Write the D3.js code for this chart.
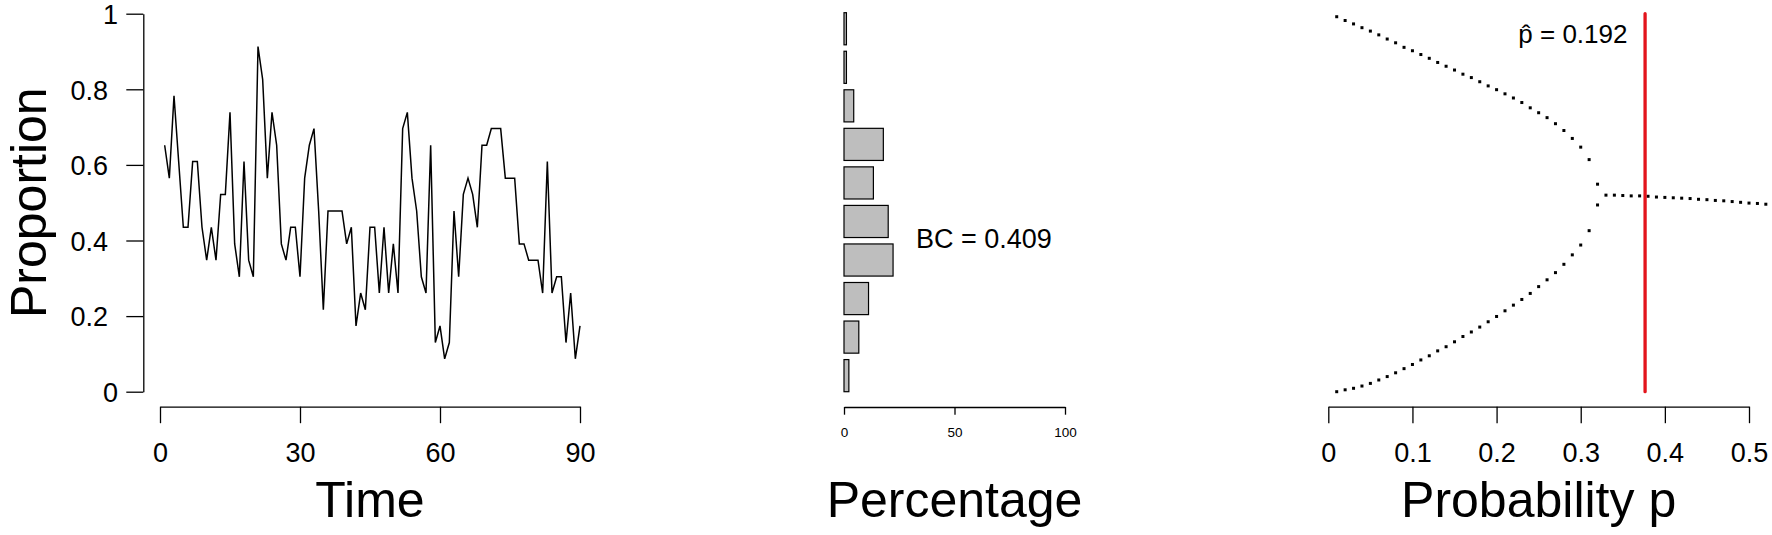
<!DOCTYPE html>
<html><head><meta charset="utf-8">
<script src="https://cdn.jsdelivr.net/npm/d3@7"></script>
<style>
html,body{margin:0;padding:0;background:#fff;}
svg{display:block;font-family:"Liberation Sans",Arial,Helvetica,sans-serif;}
</style></head><body>
<svg id="c" width="1772" height="535"></svg>
<script>
// ---------- DATA ----------
// Panel 1: proportion over time (t = 1..90)
const timeValues = [
 0.652,0.565,0.783,0.609,0.435,0.435,0.609,0.609,0.435,0.348,
 0.435,0.348,0.522,0.522,0.739,0.391,0.304,0.609,0.348,0.304,
 0.913,0.826,0.565,0.739,0.652,0.391,0.348,0.435,0.435,0.304,
 0.565,0.652,0.696,0.478,0.217,0.478,0.478,0.478,0.478,0.391,
 0.435,0.174,0.261,0.217,0.435,0.435,0.261,0.435,0.261,0.391,
 0.261,0.696,0.739,0.565,0.478,0.304,0.261,0.652,0.130,0.174,
 0.087,0.130,0.478,0.304,0.522,0.565,0.522,0.435,0.652,0.652,
 0.696,0.696,0.696,0.565,0.565,0.565,0.391,0.391,0.348,0.348,
 0.348,0.261,0.609,0.261,0.304,0.304,0.130,0.261,0.087,0.174];
const timeTicks = [0, 30, 60, 90];
const timeTickLabels = ["0", "30", "60", "90"];
const propTicks = [0, 0.2, 0.4, 0.6, 0.8, 1];
const propTickLabels = ["0", "0.2", "0.4", "0.6", "0.8", "1"];

// Panel 2: histogram of proportions (bins bottom -> top), percentage
const binLabels = ["0-0.1","0.1-0.2","0.2-0.3","0.3-0.4","0.4-0.5","0.5-0.6","0.6-0.7","0.7-0.8","0.8-0.9","0.9-1"];
const binPercent = [2.2, 6.7, 11.1, 22.2, 20.0, 13.3, 17.8, 4.4, 1.1, 1.1];
const pctTicks = [0, 50, 100];
const pctTickLabels = ["0", "50", "100"];
const bcLabel = "BC = 0.409";

// Panel 3: equilibria vs probability p
const upperP = [0.01,0.02,0.03,0.04,0.05,0.06,0.07,0.08,0.09,0.10,0.11,0.12,0.13,0.14,0.15,0.16,
                0.17,0.18,0.19,0.20,0.21,0.22,0.23,0.24,0.25,0.26,0.27,0.28,0.29,0.30,0.31,0.32];
const upperY = [0.992,0.982,0.973,0.963,0.954,0.944,0.933,0.923,0.911,0.902,0.892,0.882,0.871,0.861,0.851,0.840,
                0.831,0.820,0.809,0.799,0.788,0.777,0.765,0.751,0.738,0.725,0.709,0.691,0.670,0.647,0.614,0.549];
const lowerP = [0.01,0.02,0.03,0.04,0.05,0.06,0.07,0.08,0.09,0.10,0.11,0.12,0.13,0.14,0.15,0.16,
                0.17,0.18,0.19,0.20,0.21,0.22,0.23,0.24,0.25,0.26,0.27,0.28,0.29,0.30,0.31,0.32];
const lowerY = [0.000,0.005,0.009,0.015,0.022,0.031,0.040,0.050,0.061,0.072,0.084,0.095,0.108,0.119,0.132,0.146,
                0.158,0.171,0.185,0.199,0.214,0.229,0.244,0.260,0.278,0.296,0.315,0.337,0.362,0.388,0.426,0.494];
const midP = [0.33,0.34,0.35,0.36,0.37,0.38,0.39,0.40,0.41,0.42,0.43,0.44,0.45,0.46,0.47,0.48,0.49,0.50,0.51,0.52];
const midY = [0.520,0.520,0.519,0.518,0.518,0.517,0.515,0.514,0.513,0.512,0.511,0.509,0.508,0.506,0.505,0.503,0.501,0.499,0.498,0.496];
const pTicks = [0, 0.1, 0.2, 0.3, 0.4, 0.5];
const pTickLabels = ["0", "0.1", "0.2", "0.3", "0.4", "0.5"];
const pLine = 0.3765;
const pHatLabel = "p\u0302 = 0.192";

// ---------- DRAWING ----------
const svg = d3.select("#c");
const FONT_TICK = 27, FONT_TITLE = 50;
const y = d3.scaleLinear().domain([0, 1]).range([391.7, 13.7]);

function styleAxis(g, fs) {
  g.attr("font-family", null).attr("font-size", fs);
  g.select(".domain").attr("stroke", "#000").attr("stroke-width", 1.3);
  g.selectAll(".tick line").attr("stroke", "#000").attr("stroke-width", 1.3);
  g.selectAll(".tick text").attr("fill", "#000");
}

// ---- Panel 1 ----
const xT = d3.scaleLinear().domain([0, 90]).range([160, 580]);
const gY = svg.append("g").attr("transform", "translate(143.3,0)")
  .call(d3.axisLeft(y).tickValues(propTicks).tickFormat((d, i) => propTickLabels[i])
    .tickSize(17).tickSizeOuter(0).tickPadding(8));
styleAxis(gY, FONT_TICK);
gY.selectAll(".tick text").attr("x", (d, i) => propTickLabels[i].includes(".") ? -35.3 : -25.3)
  .attr("dy", "0.36em");

const gX1 = svg.append("g").attr("transform", "translate(0,406.7)")
  .call(d3.axisBottom(xT).tickValues(timeTicks).tickFormat((d, i) => timeTickLabels[i])
    .tickSize(16.5).tickSizeOuter(0).tickPadding(19.6));
styleAxis(gX1, FONT_TICK);

svg.append("path").datum(timeValues)
  .attr("fill", "none").attr("stroke", "#000").attr("stroke-width", 1.5)
  .attr("stroke-linejoin", "miter")
  .attr("d", d3.line().x((d, i) => xT(i + 1)).y(d => y(d)));

svg.append("text").attr("transform", `translate(45.5,${y(0.5)}) rotate(-90)`)
  .attr("text-anchor", "middle").attr("font-size", FONT_TITLE).text("Proportion");
svg.append("text").attr("x", (xT(0) + xT(90)) / 2).attr("y", 517)
  .attr("text-anchor", "middle").attr("font-size", FONT_TITLE).text("Time");

// ---- Panel 2 ----
const xP = d3.scaleLinear().domain([0, 100]).range([844, 1065]);
const band = d3.scaleBand().domain(binLabels).range([391.7, 12.7]).paddingInner(0.2 / 1.2).paddingOuter(0);
svg.append("g").selectAll("rect").data(binPercent).join("rect")
  .attr("x", xP(0)).attr("y", (d, i) => band(binLabels[i]))
  .attr("width", d => xP(d) - xP(0)).attr("height", band.bandwidth())
  .attr("fill", "#bebebe").attr("stroke", "#000").attr("stroke-width", 1.2);

const gX2 = svg.append("g").attr("transform", "translate(0,407)")
  .call(d3.axisBottom(xP).tickValues(pctTicks).tickFormat((d, i) => pctTickLabels[i])
    .tickSize(7.7).tickSizeOuter(0).tickPadding(12.7));
styleAxis(gX2, 13.5);

svg.append("text").attr("x", 916).attr("y", 248.3).attr("font-size", 27).text(bcLabel);
svg.append("text").attr("x", (xP(0) + xP(100)) / 2).attr("y", 517)
  .attr("text-anchor", "middle").attr("font-size", FONT_TITLE).text("Percentage");

// ---- Panel 3 ----
const xR = d3.scaleLinear().domain([0, 0.5]).range([1328.3, 1749]);
const pts = [];
upperP.forEach((p, i) => pts.push([p, upperY[i]]));
lowerP.forEach((p, i) => pts.push([p, lowerY[i]]));
midP.forEach((p, i) => pts.push([p, midY[i]]));
const DS = 3;
svg.append("g").selectAll("rect").data(pts).join("rect")
  .attr("x", d => xR(d[0]) - DS / 2).attr("y", d => y(d[1]) - DS / 2)
  .attr("width", DS).attr("height", DS).attr("fill", "#000");

svg.append("line").attr("x1", xR(pLine)).attr("x2", xR(pLine))
  .attr("y1", y(1)).attr("y2", y(0))
  .attr("stroke", "#e3141c").attr("stroke-width", 3.3).attr("stroke-linecap", "round");

const gX3 = svg.append("g").attr("transform", "translate(0,406.7)")
  .call(d3.axisBottom(xR).tickValues(pTicks).tickFormat((d, i) => pTickLabels[i])
    .tickSize(16.5).tickSizeOuter(0).tickPadding(19.6));
styleAxis(gX3, FONT_TICK);

// p-hat label (single text, combining circumflex over p)
svg.append("text").attr("x", 1518.3).attr("y", 43).attr("font-size", 26).text(pHatLabel);

svg.append("text").attr("x", (xR(0) + xR(0.5)) / 2).attr("y", 517)
  .attr("text-anchor", "middle").attr("font-size", FONT_TITLE).text("Probability p");
</script>
</body></html>
